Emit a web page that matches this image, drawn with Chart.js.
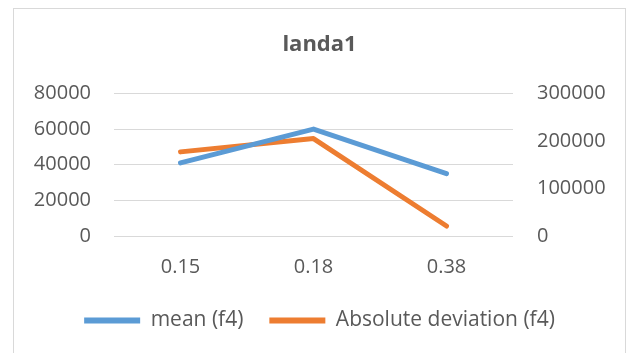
<!DOCTYPE html>
<html>
<head>
<meta charset="utf-8">
<script src="https://cdn.jsdelivr.net/npm/chart.js@4.4.1/dist/chart.umd.min.js"></script>
<style>
  html, body { margin: 0; padding: 0; background: #ffffff; width: 628px; height: 353px; overflow: hidden; }
  #frame { position: absolute; left: 13px; top: 8px; width: 611px; height: 400px; border: 1px solid #d9d9d9; box-sizing: content-box; }
  #wrap { position: absolute; left: 14px; top: 9px; width: 611px; height: 344px; }
</style>
</head>
<body>
<div id="frame"></div>
<div id="wrap"><canvas id="c" width="611" height="344"></canvas></div>
<script>
const categories = ["0.15", "0.18", "0.38"];
const meanF4 = [41000, 60000, 35000];
const absDevF4 = [177000, 205000, 21000];
const leftTicks = [0, 20000, 40000, 60000, 80000];
const rightTicks = [0, 100000, 200000, 300000];

const TXT = '#595959';
const FONT = '"Open Sans", "Liberation Sans", sans-serif';

new Chart(document.getElementById('c'), {
  type: 'line',
  data: {
    labels: categories,
    datasets: [
      {
        label: 'mean (f4)',
        data: meanF4,
        yAxisID: 'y',
        borderColor: '#5B9BD5',
        backgroundColor: '#5B9BD5',
        borderWidth: 5,
        borderCapStyle: 'round',
        borderJoinStyle: 'round',
        pointRadius: 0,
        pointHoverRadius: 0,
        tension: 0,
        fill: false
      },
      {
        label: 'Absolute deviation (f4)',
        data: absDevF4,
        yAxisID: 'y1',
        borderColor: '#ED7D31',
        backgroundColor: '#ED7D31',
        borderWidth: 5,
        borderCapStyle: 'round',
        borderJoinStyle: 'round',
        pointRadius: 0,
        pointHoverRadius: 0,
        tension: 0,
        fill: false
      }
    ]
  },
  options: {
    responsive: false,
    animation: false,
    devicePixelRatio: 1,
    layout: { padding: { top: 0, left: 0, right: 0, bottom: 12 } },
    plugins: {
      tooltip: { enabled: false },
      title: {
        display: true,
        text: 'landa1',
        color: TXT,
        font: { family: FONT, size: 22, weight: 'bold', lineHeight: 1.2 },
        padding: { top: 23, bottom: 35 }
      },
      legend: {
        display: true,
        position: 'bottom',
        labels: {
          color: TXT,
          font: { family: FONT, size: 21 },
          boxWidth: 56,
          boxHeight: 6,
          padding: 26,
          generateLabels: (chart) => chart.data.datasets.map((ds, i) => ({
            text: ds.label,
            fillStyle: ds.borderColor,
            strokeStyle: ds.borderColor,
            lineWidth: 0,
            fontColor: TXT,
            hidden: false,
            datasetIndex: i
          }))
        }
      }
    },
    scales: {
      x: {
        type: 'category',
        offset: true,
        grid: { display: false, drawTicks: false },
        border: { display: false },
        ticks: { color: TXT, font: { family: FONT, size: 20 }, padding: 19, maxRotation: 0 },
        afterFit: (a) => { a.height = 48; }
      },
      y: {
        position: 'left',
        min: 0,
        max: 80000,
        afterBuildTicks: (a) => { a.ticks = leftTicks.map(v => ({ value: v })); },
        grid: { color: '#d9d9d9', lineWidth: 1, drawTicks: false },
        border: { display: false },
        ticks: { color: TXT, font: { family: FONT, size: 20 }, padding: 23, callback: (v) => String(v) },
        afterFit: (a) => { a.width = 100; }
      },
      y1: {
        position: 'right',
        min: 0,
        max: 300000,
        afterBuildTicks: (a) => { a.ticks = rightTicks.map(v => ({ value: v })); },
        grid: { display: false, drawTicks: false },
        border: { display: false },
        ticks: { color: TXT, font: { family: FONT, size: 20 }, padding: 24, callback: (v) => String(v) },
        afterFit: (a) => { a.width = 112; }
      }
    }
  }
});
</script>
</body>
</html>
